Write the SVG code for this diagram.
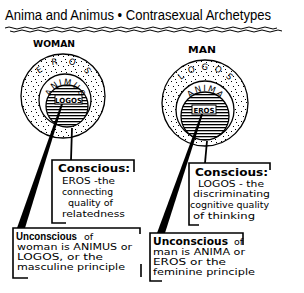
<svg xmlns="http://www.w3.org/2000/svg" width="304" height="293" viewBox="0 0 304 293">
<defs>
<style>
.t{font-family:"DejaVu Sans","Liberation Sans",sans-serif;fill:#000}
.title{font-family:"Liberation Sans",Arial,sans-serif;font-size:14px}
.hd{font-size:9px;font-weight:bold}
.b{font-size:11px;font-weight:bold}
.n{font-size:9.5px}
.arc{font-size:8.5px}
.frame{fill:none;stroke:#000;stroke-width:1.6}
.ring{stroke:#000;stroke-width:1.3}
.ln{stroke:#000;stroke-width:1.8;fill:none}
.wave{stroke:#000;stroke-width:1;fill:none}
</style>
<pattern id="stip" width="10" height="10" patternUnits="userSpaceOnUse">
<rect width="10" height="10" fill="#fff"/>
<rect x="1" y="1" width="1" height="1" fill="#000"/>
<rect x="6" y="2" width="1" height="1" fill="#000"/>
<rect x="3" y="6" width="1" height="1" fill="#000"/>
<rect x="8" y="5" width="1" height="1" fill="#000"/>
<rect x="5" y="9" width="1" height="1" fill="#000"/>
</pattern>
<pattern id="hatch" width="6" height="3" patternUnits="userSpaceOnUse">
<rect width="6" height="3" fill="#fff"/>
<rect x="0" y="1" width="6" height="1.3" fill="#000"/>
</pattern>
<path id="eL" d="M31,96 A32,32 0 0 1 95,96"/>
<path id="aL" d="M50,100 A15,15 0 0 1 80,100"/>
<path id="oR" d="M172,103 A33,33 0 0 1 238,103"/>
<path id="aR" d="M186,110 A19,19 0 0 1 224,110"/>
</defs>
<rect width="304" height="293" fill="#fff"/>

<g id="title">
<text class="t title" x="5" y="20" textLength="266" lengthAdjust="spacingAndGlyphs">Anima and Animus • Contrasexual Archetypes</text>
<path class="wave" d="M5,28 q4,-2 8,0 t8,0 t8,0 t8,0 t8,0 t8,0 t8,0 t8,0 t8,0 t8,0 t8,0 t8,0 t8,0 t8,0 t8,0 t8,0 t8,0 t8,0 t8,0 t8,0 t8,0 t8,0 t8,0 t8,0 t8,0 t8,0 t8,0 t8,0 t8,0 t8,0 t8,0 t8,0 t8,0 t8,0"/>
<path class="wave" d="M10,31 q4,2 8,0 t8,0 t8,0 t8,0 t8,0 t8,0 t8,0 t8,0 t8,0 t8,0 t8,0 t8,0 t8,0 t8,0 t8,0 t8,0 t8,0 t8,0 t8,0 t8,0 t8,0 t8,0 t8,0 t8,0 t8,0 t8,0 t8,0 t8,0 t8,0 t8,0 t8,0 t8,0 t8,0 t8,0"/>
</g>

<g id="woman-label"><text class="t hd" x="33" y="47" textLength="42" lengthAdjust="spacingAndGlyphs">WOMAN</text></g>
<g id="man-label"><text class="t hd" x="188" y="53" textLength="28" lengthAdjust="spacingAndGlyphs">MAN</text></g>

<g id="woman-psyche">
<circle class="ring" cx="63" cy="96" r="42" fill="url(#stip)"/>
<circle class="ring" cx="65" cy="100" r="26" fill="#fff"/>
<circle class="ring" cx="67" cy="106" r="21" fill="url(#hatch)"/>
<text class="t arc" letter-spacing="10"><textPath href="#eL" startOffset="55%" text-anchor="middle">EROS</textPath></text>
<text class="t arc" letter-spacing="1.2"><textPath href="#aL" startOffset="51.3%" text-anchor="middle">ANIMUS</textPath></text>
<rect x="55" y="95" width="27" height="9" fill="#fff" stroke="#000" stroke-width="1"/>
<text class="t" style="font-size:7px;font-weight:bold" x="68.5" y="102.5" text-anchor="middle">LOGOS</text>
</g>

<g id="man-psyche">
<circle class="ring" cx="205" cy="103" r="43" fill="url(#stip)"/>
<circle class="ring" cx="205" cy="110" r="29" fill="#fff"/>
<circle class="ring" cx="205" cy="116" r="24" fill="url(#hatch)"/>
<text class="t arc" letter-spacing="6"><textPath href="#oR" startOffset="52.9%" text-anchor="middle">LOGOS</textPath></text>
<text class="t arc" letter-spacing="1.5"><textPath href="#aR" startOffset="51.3%" text-anchor="middle">ANIMA</textPath></text>
<rect x="192" y="105" width="24" height="9" fill="#fff" stroke="#000" stroke-width="1"/>
<text class="t" style="font-size:7px;font-weight:bold" x="204" y="112.5" text-anchor="middle">EROS</text>
</g>

<g id="connectors">
<polygon points="61,104 63,104 25,228 17,228" fill="#000"/>
<line class="ln" x1="72" y1="128" x2="71" y2="160"/>
<polygon points="201,114 203,114 165,233 157,233" fill="#000"/>
<line class="ln" x1="207" y1="141" x2="205" y2="163"/>
</g>

<g id="woman-conscious">
<path class="frame" d="M66,223 H52 V160 H134 V172"/>
<text class="t b" x="58" y="172" textLength="72" lengthAdjust="spacingAndGlyphs">Conscious:</text>
<text class="t n" x="62" y="184" textLength="53" lengthAdjust="spacingAndGlyphs">EROS -the</text>
<text class="t n" x="62" y="195" textLength="51" lengthAdjust="spacingAndGlyphs">connecting</text>
<text class="t n" x="68" y="206" textLength="45" lengthAdjust="spacingAndGlyphs">quality of</text>
<text class="t n" x="62" y="217" textLength="63" lengthAdjust="spacingAndGlyphs">relatedness</text>
</g>

<g id="woman-unconscious">
<path class="frame" d="M28,278 H13 V228 H140 V234 M141,264 V277"/>
<text class="t" style="font-family:'Liberation Sans',Arial,sans-serif;font-size:10px;font-weight:bold" x="16" y="240" textLength="61" lengthAdjust="spacingAndGlyphs">Unconscious</text>
<text class="t n" x="84" y="240">of</text>
<text class="t n" x="17" y="250" textLength="115" lengthAdjust="spacingAndGlyphs">woman is ANIMUS or</text>
<text class="t n" x="17" y="260" textLength="86" lengthAdjust="spacingAndGlyphs">LOGOS,  or the</text>
<text class="t n" x="17" y="270" textLength="108" lengthAdjust="spacingAndGlyphs">masculine principle</text>
</g>

<g id="man-conscious">
<path class="frame" d="M199,225 H189 V163 H270 V170"/>
<text class="t b" x="195" y="176" textLength="73" lengthAdjust="spacingAndGlyphs">Conscious:</text>
<text class="t n" x="198" y="187" textLength="66" lengthAdjust="spacingAndGlyphs">LOGOS - the</text>
<text class="t n" x="193" y="197" textLength="77" lengthAdjust="spacingAndGlyphs">discriminating</text>
<text class="t n" x="190" y="208" textLength="79" lengthAdjust="spacingAndGlyphs">cognitive quality</text>
<text class="t n" x="193" y="219" textLength="62" lengthAdjust="spacingAndGlyphs">of thinking</text>
</g>

<g id="man-unconscious">
<path class="frame" d="M162,281 H150 V233 H243 V245"/>
<text class="t" style="font-size:10.5px;font-weight:bold" x="153" y="245" textLength="75" lengthAdjust="spacingAndGlyphs">Unconscious</text>
<text class="t n" x="234" y="245">of</text>
<text class="t n" x="153" y="255" textLength="92" lengthAdjust="spacingAndGlyphs">man is ANIMA or</text>
<text class="t n" x="153" y="265" textLength="73" lengthAdjust="spacingAndGlyphs">EROS  or the</text>
<text class="t n" x="153" y="275" textLength="102" lengthAdjust="spacingAndGlyphs">feminine principle</text>
</g>
</svg>
